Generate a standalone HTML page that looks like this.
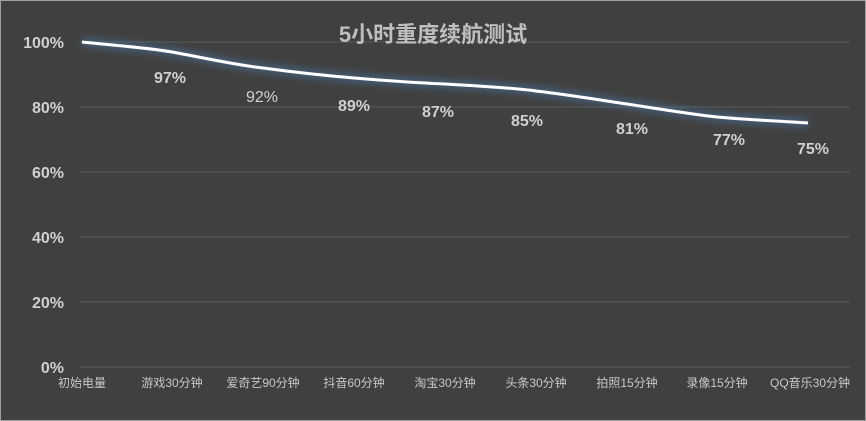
<!DOCTYPE html>
<html><head><meta charset="utf-8"><style>
html,body{margin:0;padding:0;background:#404040;}
svg{display:block;}
text{font-family:"Liberation Sans","Noto Sans CJK SC",sans-serif;}
</style></head><body>
<svg width="866" height="421" xmlns="http://www.w3.org/2000/svg">
<defs><filter id="g" x="-10%" y="-50%" width="120%" height="200%"><feGaussianBlur stdDeviation="4"/></filter></defs>
<rect x="0" y="0" width="866" height="421" fill="#404040"/>
<rect x="0.5" y="0.5" width="865" height="420" fill="none" stroke="#a0a0a0"/>
<g stroke="#5a5a5a" stroke-width="1">
<line x1="80" y1="42" x2="850" y2="42"/><line x1="80" y1="107" x2="850" y2="107"/>
<line x1="80" y1="172" x2="850" y2="172"/><line x1="80" y1="237" x2="850" y2="237"/>
<line x1="80" y1="302" x2="850" y2="302"/><line x1="80" y1="367" x2="850" y2="367"/>
</g>
<text x="433" y="42" text-anchor="middle" font-size="22" font-weight="bold" fill="#bfbfbf">5小时重度续航测试</text>
<g font-size="16" font-weight="bold" fill="#d0d0d0" text-anchor="end">
<text x="64" y="48">100%</text><text x="64" y="113">80%</text><text x="64" y="178">60%</text>
<text x="64" y="243">40%</text><text x="64" y="308">20%</text><text x="64" y="373">0%</text>
</g>
<path d="M82,42 C120,46 150,48 172,52 C200,57 235,65 263,68 C300,73 330,76 354,78 C390,81 420,83 445,84 C480,86 515,88 536,91 C570,95 600,100 627,104 C660,109 690,114 717,117 C750,120 780,121 808,123" fill="none" stroke="#4a7aa8" stroke-width="8" opacity="0.6" filter="url(#g)"/>
<path d="M82,42 C120,46 150,48 172,52 C200,57 235,65 263,68 C300,73 330,76 354,78 C390,81 420,83 445,84 C480,86 515,88 536,91 C570,95 600,100 627,104 C660,109 690,114 717,117 C750,120 780,121 808,123" fill="none" stroke="#ffffff" stroke-width="3"/>
<g font-size="16" font-weight="bold" fill="#d0d0d0" text-anchor="middle">
<text x="170" y="83">97%</text><text x="262" y="102" font-weight="normal">92%</text>
<text x="354" y="111">89%</text><text x="438" y="117">87%</text><text x="527" y="126">85%</text>
<text x="632" y="134">81%</text><text x="729" y="145">77%</text><text x="813" y="154">75%</text>
</g>
<g font-size="12" fill="#c8c8c8" text-anchor="middle">
<text x="82" y="387">初始电量</text><text x="172" y="387">游戏30分钟</text><text x="263" y="387">爱奇艺90分钟</text>
<text x="354" y="387">抖音60分钟</text><text x="445" y="387">淘宝30分钟</text><text x="536" y="387">头条30分钟</text>
<text x="627" y="387">拍照15分钟</text><text x="717" y="387">录像15分钟</text><text x="810" y="387">QQ音乐30分钟</text>
</g>
</svg>
</body></html>
